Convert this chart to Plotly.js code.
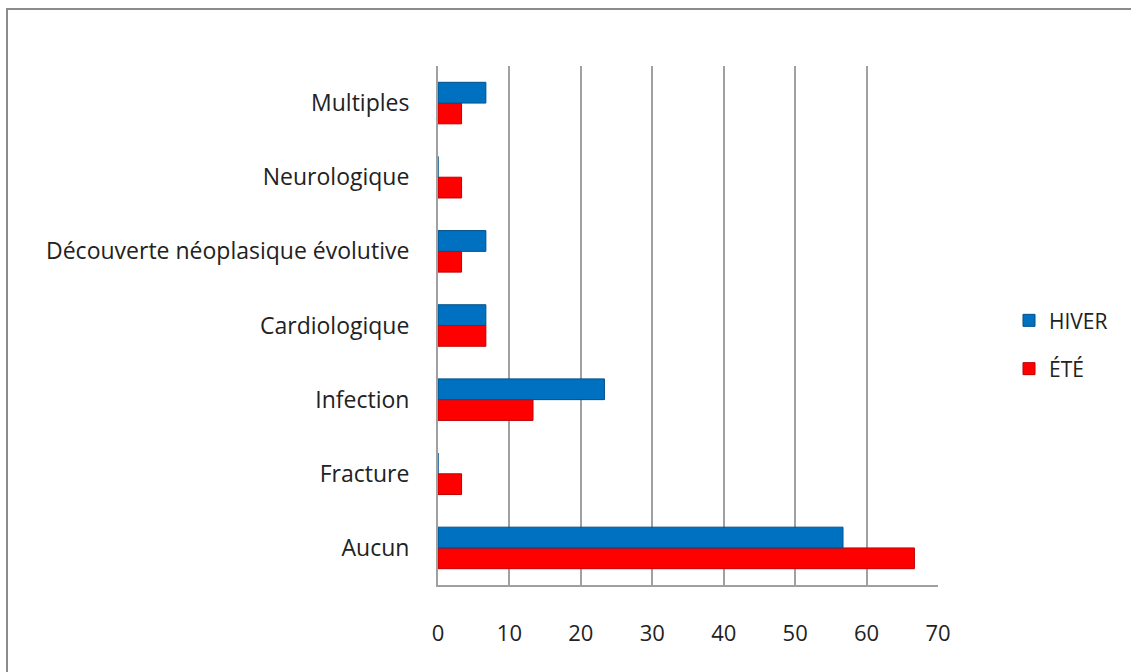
<!DOCTYPE html>
<html>
<head>
<meta charset="utf-8">
<script src="https://cdn.plot.ly/plotly-3.0.1.min.js"></script>
<style>
html,body{margin:0;padding:0;background:#fff;}
#chart{position:absolute;left:0;top:0;width:1131px;height:672px;}
#frame{position:absolute;left:6px;top:8px;width:1140px;height:700px;border:2px solid #8c8c8c;pointer-events:none;}
</style>
</head>
<body>
<div id="chart"></div>
<div id="frame"></div>
<script>
const categories = ["Aucun","Fracture","Infection","Cardiologique","Découverte néoplasique évolutive","Neurologique","Multiples"];
const hiver = [56.7, 0, 23.3, 6.7, 6.7, 0, 6.7];
const ete = [66.7, 3.3, 13.3, 6.7, 3.3, 3.3, 3.3];
const xTicks = [0,10,20,30,40,50,60,70];

const fam = "Open Sans, Noto Sans, sans-serif";

const traces = [
  {type:"bar", orientation:"h", name:"ÉTÉ", y:categories, x:ete, legendgroup:"b",
   marker:{color:"#ff0000", line:{color:"#c00000", width:1}}, legendrank:2},
  {type:"bar", orientation:"h", name:"HIVER", y:categories, x:hiver, legendgroup:"a",
   marker:{color:"#0070c0", line:{color:"#00508a", width:1}}, legendrank:1}
];

const layout = {
  width:1131, height:672,
  margin:{l:438, r:193, t:66, b:87},
  paper_bgcolor:"#fff", plot_bgcolor:"#fff",
  barmode:"group", bargap:0.44, bargroupgap:0,
  font:{family:fam, size:21, color:"#222"},
  showlegend:true,
  legend:{x:1.142, y:0.463, xanchor:"left", yanchor:"middle", font:{family:fam,size:21,color:"#222"},
          tracegroupgap:18, itemwidth:30, bgcolor:"rgba(0,0,0,0)"},
  xaxis:{range:[0,70], tickvals:xTicks, ticktext:xTicks.map(String), showgrid:true,
         gridcolor:"#a0a0a0", gridwidth:2, zeroline:false, showline:true, linecolor:"#a0a0a0", linewidth:2,
         ticks:"", ticklabelstandoff:28, tickfont:{family:fam,size:22,color:"#222"}, fixedrange:true},
  yaxis:{categoryorder:"array", categoryarray:categories, showgrid:false, zeroline:false,
         showline:true, linecolor:"#a0a0a0", linewidth:2, ticks:"", ticklabelstandoff:22,
         tickfont:{family:fam,size:23,color:"#222"}, fixedrange:true}
};

Plotly.newPlot("chart", traces, layout, {displayModeBar:false, staticPlot:true});
</script>
</body>
</html>
